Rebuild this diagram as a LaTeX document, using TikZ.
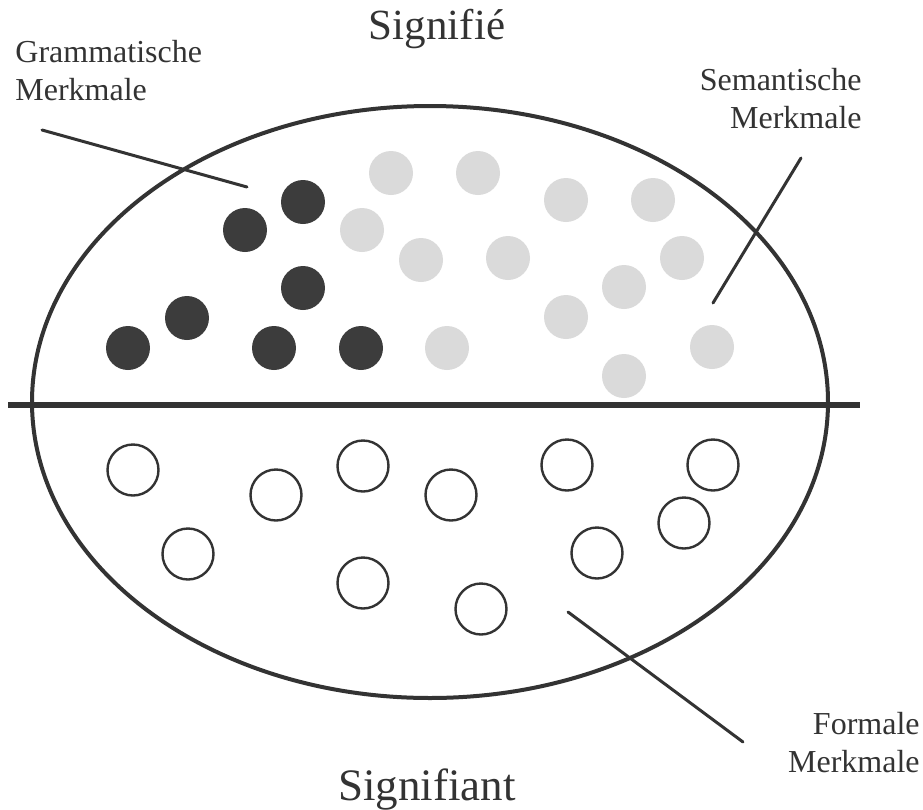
\documentclass[tikz,border=0pt]{standalone}
\usepackage{fontspec}
\setmainfont{LiberationSerif}[Extension=.ttf, UprightFont=*-Regular,
  BoldFont=*-Bold, ItalicFont=*-Italic, BoldItalicFont=*-BoldItalic]
\usepackage{xcolor}
\definecolor{ink}{HTML}{333333}
\definecolor{dark-dot}{HTML}{3C3C3C}
\definecolor{light-dot}{HTML}{DADADA}

\begin{document}
\begin{tikzpicture}[x=0.5pt, y=-0.5pt,
        every node/.style={font=\fontsize{16}{19}\selectfont, text=ink, inner sep=0pt},
        leader/.style={draw=ink, line width=1.5pt, line cap=round},
        gramdot/.style={fill=dark-dot},
        semdot/.style={fill=light-dot},
        formdot/.style={draw=ink, line width=1.2pt}]
      \useasboundingbox (0,0) rectangle (923,810);
      % features inside the sign
      \foreach \x/\y in {303/202, 245/230, 303/288, 187/318, 128/348, 274/348, 361/348}
        \fill[gramdot] (\x,\y) circle [radius=22];
      \foreach \x/\y in {391/173, 478/173, 362/230, 421/260, 566/200, 653/200, 508/258,
                         682/258, 624/287, 566/317, 447/348, 712/347, 624/376}
        \fill[semdot] (\x,\y) circle [radius=22];
      \foreach \x/\y in {133/470, 276/495, 363/466, 451/495, 567/465, 713/465,
                         188/554, 363/583, 481/609, 597/553, 684/523}
        \draw[formdot] (\x,\y) circle [radius=25.5];
      % the sign and its bar
      \draw[draw=ink, line width=2pt] (430,402) ellipse [x radius=398, y radius=296];
      \coordinate (bar-w) at (8,405);
      \coordinate (bar-e) at (860,405);
      \draw[draw=ink, line width=2.6pt] (bar-w) -- (bar-e);
      % titles
      \node[font=\fontsize{21.5}{24}\selectfont, anchor=base] (signifie) at (437,39) {Signifié};
      \node[font=\fontsize{22.5}{26}\selectfont, anchor=base] (signifiant) at (427,800) {Signifiant};
      % labels and leaders
      \node[align=left, anchor=base west] (gram) at (15,100) {Grammatische\\Merkmale};
      \node[align=right, anchor=base east] (sem) at (862,128) {Semantische\\Merkmale};
      \node[align=right, anchor=base east] (form) at (920,772) {Formale\\Merkmale};
      \coordinate (gram-a) at (42,130);
      \coordinate (gram-b) at (247,187);
      \coordinate (sem-a) at (801,158);
      \coordinate (sem-b) at (713,303);
      \coordinate (form-a) at (568,612);
      \coordinate (form-b) at (743,742);
      \draw[leader] (gram-a) -- (gram-b);
      \draw[leader] (sem-a) -- (sem-b);
      \draw[leader] (form-a) -- (form-b);
    \end{tikzpicture}
\end{document}
